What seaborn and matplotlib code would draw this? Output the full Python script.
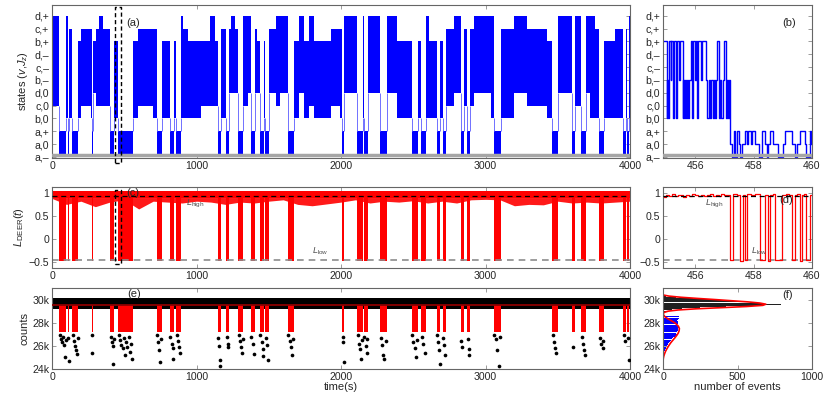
import numpy as np
import matplotlib
matplotlib.use("Agg")
import matplotlib.pyplot as plt
import seaborn as sns
from matplotlib.ticker import FuncFormatter

sns.set_theme(style="ticks")
plt.rcParams['font.family'] = ['Liberation Sans', 'DejaVu Sans']
plt.rcParams['mathtext.fontset'] = 'custom'
plt.rcParams['mathtext.rm'] = 'Liberation Sans'
plt.rcParams['mathtext.it'] = 'Liberation Sans:italic'

# state labels (index 0 = bottom)
state_names = ['a,–', 'a,0', 'a,+', 'b,0', 'c,0', 'd,0', 'b,–', 'c,–', 'd,–', 'b,+', 'c,+', 'd,+']

# full trace, read as blocks: start time, highest and lowest state visited
seg_start = [0, 50, 97, 108, 120, 138, 182, 200, 270, 274, 283, 304, 327, 350, 401, 431, 457, 558, 592, 700,
             724, 760, 815, 845, 857, 892, 910, 938, 1030, 1095, 1125, 1147, 1168, 1203, 1225, 1240, 1265, 1288,
             1325, 1355, 1375, 1403, 1420, 1437, 1467, 1474, 1502, 1548, 1580, 1630, 1675, 1710, 1744, 1779,
             1813, 1929, 1990, 2009, 2020, 2113, 2154, 2158, 2186, 2269, 2315, 2389, 2488, 2534, 2557, 2590,
             2608, 2661, 2688, 2704, 2728, 2781, 2827, 2850, 2873, 2891, 2919, 3040, 3057, 3108, 3196, 3288,
             3426, 3460, 3499, 3598, 3621, 3663, 3696, 3725, 3760, 3787, 3821, 3898, 3955, 3972, 3979, 3995]
seg_top = [11, 2, 11, 2, 10, 2, 9, 10, 10, 2, 9, 10, 11, 10, 2, 9, 2, 9, 10, 10,
           2, 9, 2, 9, 2, 11, 10, 9, 9, 11, 9, 2, 10, 2, 10, 11, 10, 2, 11, 11,
           2, 10, 9, 2, 9, 2, 10, 11, 11, 2, 9, 11, 9, 11, 9, 10, 10, 2, 11, 2,
           11, 2, 11, 2, 11, 9, 2, 9, 2, 11, 9, 2, 9, 2, 10, 11, 2, 10, 2, 10,
           11, 11, 2, 10, 11, 10, 9, 2, 11, 2, 11, 2, 11, 11, 10, 2, 9, 10, 2, 10, 2, 11]
seg_bot = [4, 0, 3, 0, 3, 0, 3, 4, 3, 0, 5, 4, 4, 4, 0, 3, 0, 3, 4, 3,
           0, 3, 0, 3, 0, 3, 3, 3, 4, 4, 4, 0, 3, 0, 5, 5, 5, 0, 4, 5,
           0, 5, 5, 0, 3, 0, 5, 4, 5, 0, 3, 5, 3, 4, 3, 4, 3, 0, 5, 0,
           3, 0, 5, 0, 5, 3, 0, 3, 0, 3, 3, 0, 3, 0, 4, 5, 0, 4, 0, 4,
           5, 3, 0, 3, 5, 4, 3, 0, 5, 0, 4, 0, 5, 3, 3, 0, 3, 3, 0, 3, 0, 3]
t_end = 4000

# zoomed trace 455-460 s
b_t = [454.90, 455.03, 455.05, 455.07, 455.10, 455.16, 455.18, 455.23, 455.26, 455.29, 455.36, 455.38,
       455.45, 455.47, 455.57, 455.60, 455.63, 455.66, 455.70, 455.73, 455.77, 455.80, 455.85, 455.90,
       455.93, 455.99, 456.02, 456.08, 456.11, 456.20, 456.24, 456.36, 456.42, 456.46, 456.52, 456.56,
       456.60, 456.64, 456.69, 456.73, 456.76, 456.81, 456.86, 456.90, 456.94, 456.98, 457.04, 457.08,
       457.12, 457.16, 457.21, 457.27, 457.32, 457.38, 457.42, 457.49, 457.55, 457.60, 457.72, 457.78,
       457.82, 457.90, 457.95, 458.06, 458.17, 458.28, 458.40, 458.46, 458.50, 458.56, 458.68, 458.85,
       459.02, 459.07, 459.30, 459.41, 459.50, 459.58, 459.75, 459.81, 459.92, 459.97, 460.00]
b_s = [9, 3, 6, 3, 9, 6, 9, 3, 6, 9, 3, 9,
       6, 9, 3, 6, 3, 6, 3, 6, 3, 6, 9, 3,
       9, 6, 9, 3, 9, 6, 9, 6, 3, 6, 3, 6,
       3, 6, 3, 6, 9, 3, 6, 3, 6, 9, 3, 6,
       3, 6, 1, 0, 2, 0, 2, 1, 0, 1, 2, 1,
       2, 1, 2, 1, 0, 2, 1, 0, 1, 2, 1, 0,
       1, 2, 1, 0, 1, 2, 1, 0, 2, 1, 1]

# L_DEER: lower edge of the high band (s, value)
c_env_t = [0, 100, 200, 300, 400, 500, 600, 700, 800, 900, 1000, 1100, 1200, 1300, 1400, 1500, 1600, 1700,
           1800, 1900, 2000, 2100, 2200, 2300, 2400, 2500, 2600, 2700, 2800, 2900, 3000, 3100, 3200, 3300,
           3400, 3500, 3600, 3700, 3800, 3900, 4000]
c_env_lo = [0.88, 0.75, 0.82, 0.70, 0.80, 0.85, 0.65, 0.82, 0.80, 0.78, 0.82, 0.80, 0.75, 0.80, 0.78, 0.82,
            0.85, 0.75, 0.72, 0.76, 0.80, 0.85, 0.78, 0.82, 0.80, 0.83, 0.78, 0.82, 0.78, 0.85, 0.86, 0.85,
            0.72, 0.75, 0.74, 0.82, 0.78, 0.80, 0.78, 0.80, 0.82]
L_high = 0.94
L_low = -0.456

# L_DEER zoom 455-460 s
d_t = [454.9, 455.0, 455.1, 455.2, 455.3, 455.4, 455.5, 455.6, 455.7, 455.8, 455.9, 456.0, 456.1, 456.2,
       456.3, 456.4, 456.5, 456.6, 456.7, 456.8, 456.9, 457.0, 457.1, 457.19, 457.30, 457.42, 457.55,
       457.63, 457.70, 457.77, 457.9, 458.05, 458.23, 458.40, 458.49, 458.56, 458.65, 458.73, 458.96,
       459.1, 459.2, 459.30, 459.41, 459.5, 459.58, 459.66, 459.74, 459.81, 459.92, 460.0]
d_L = [0.92, 0.95, 0.93, 0.97, 0.94, 0.96, 0.95, 0.92, 0.96, 0.94, 0.97, 0.95, 0.93, 0.96, 0.94, 0.95,
       0.97, 0.93, 0.96, 0.94, 0.98, 0.95, 0.96, -0.47, 0.97, 0.95, -0.48, 0.96, -0.47, 0.98, 0.95, 0.97,
       -0.47, 0.96, -0.48, 0.95, 0.97, -0.47, 0.96, 0.98, 0.95, -0.47, 0.96, 0.97, -0.48, 0.95, 0.97,
       -0.47, 0.96, 0.96]

# photon counts: high band, threshold, and the low-count points inside dips
count_band = (29200, 30150)
count_thresh = 29550
count_dip_floor = 27200
e_low_t = [55, 62, 70, 78, 85, 90, 95, 112, 116, 145, 152, 160, 168, 175, 178, 277, 280, 405, 412, 420, 425,
           428, 462, 470, 480, 488, 495, 505, 512, 520, 530, 538, 545, 552, 728, 735, 742, 748, 755, 820,
           828, 835, 840, 862, 870, 878, 885, 1150, 1155, 1160, 1163, 1208, 1215, 1220, 1292, 1300, 1308,
           1315, 1320, 1380, 1390, 1398, 1442, 1450, 1458, 1463, 1480, 1490, 1497, 1636, 1645, 1652, 1660,
           1668, 2012, 2015, 2018, 2118, 2125, 2132, 2140, 2148, 2162, 2170, 2178, 2183, 2275, 2283, 2292,
           2300, 2308, 2493, 2500, 2510, 2520, 2528, 2562, 2570, 2580, 2665, 2672, 2680, 2684, 2708, 2715,
           2722, 2832, 2840, 2877, 2883, 2888, 3062, 3070, 3080, 3090, 3100, 3465, 3472, 3480, 3490, 3608,
           3668, 3676, 3685, 3690, 3792, 3800, 3812, 3816, 3960, 3968, 3985, 3990]
e_low_c = [26900, 26600, 26300, 26800, 26100, 25000, 26500, 26700, 24700, 26900, 26400, 26000, 25600, 25300,
           26700, 26900, 25400, 26800, 26300, 26000, 24400, 26600, 26900, 26500, 26100, 25800, 26700, 25200,
           26300, 25900, 26800, 25500, 26200, 24900, 26900, 26300, 25600, 24600, 26600, 26800, 26200, 25800,
           24900, 26900, 26400, 25900, 25400, 26700, 26000, 24800, 24300, 26800, 26200, 25900, 26900, 26400,
           25900, 25400, 26600, 26800, 26200, 25300, 26900, 26300, 25700, 25100, 26700, 26100, 24800, 26900,
           26400, 25900, 25200, 26600, 26800, 26300, 24600, 26900, 26200, 25700, 24900, 26500, 26800, 26000,
           25400, 26600, 26700, 26100, 25200, 24900, 26400, 26900, 26300, 25800, 25000, 26500, 26800, 26200,
           25400, 26900, 26300, 25600, 24400, 26700, 26100, 25200, 26400, 25900, 26600, 25700, 25200, 26900,
           26600, 25600, 24300, 26800, 26900, 26300, 25800, 25400, 25900, 26800, 26200, 25600, 25200, 26700,
           26200, 25800, 26400, 26900, 26400, 26700, 24800]

# histogram of counts (bin centre, number of events)
hist_hi_c = [28800, 28900, 29000, 29100, 29200, 29300, 29400, 29500, 29600, 29700, 29800, 29900, 30000,
             30100, 30200, 30300]
hist_hi_n = [5, 15, 30, 60, 130, 250, 420, 640, 790, 680, 560, 450, 320, 200, 90, 20]
hist_lo_c = [28500, 28400, 28300, 28200, 28100, 28000, 27900, 27800, 27700, 27600, 27500, 27400, 27300,
             27200, 27100, 27000, 26900, 26800, 26700, 26600, 26500, 26400, 26300, 26200, 26100, 26000,
             25900, 25800, 25700, 25600, 25500, 25400, 25300, 25200, 25100, 25000, 24900, 24800, 24700, 24600]
hist_lo_n = [110, 108, 100, 95, 98, 100, 104, 100, 110, 106, 100, 98, 104, 96, 90, 95, 85, 78, 70, 62, 55,
             48, 42, 36, 32, 27, 23, 20, 16, 12, 9, 8, 6, 5, 4, 3, 2, 2, 1, 1]
fit_hi_c = [30400, 30300, 30200, 30100, 30000, 29900, 29800, 29700, 29600, 29500, 29400, 29300, 29200,
            29100, 29000, 28900, 28800]
fit_hi_n = [0, 40, 120, 230, 350, 460, 570, 650, 690, 670, 560, 390, 220, 100, 35, 10, 2]
fit_lo_c = [28700, 28500, 28300, 28100, 27900, 27700, 27500, 27300, 27100, 26900, 26700, 26500, 26300,
            26100, 25900, 25700, 25500, 25300, 25100, 24900, 24600]
fit_lo_n = [3, 14, 38, 66, 88, 103, 110, 108, 102, 92, 80, 67, 54, 43, 33, 24, 16, 10, 5, 2, 0]

fig = plt.figure(figsize=(8.3, 4.07), dpi=100)


def px_axes(l, t, r, b):
    return fig.add_axes([l / 830, 1 - b / 407, (r - l) / 830, (b - t) / 407])


def style(ax):
    ax.tick_params(direction='in', length=3, width=0.6, color='0.55', labelsize=7.6,
                   top=True, right=True, pad=2)
    for s in ax.spines.values():
        s.set_color('0.4')
        s.set_linewidth(0.8)


ax_a = px_axes(52, 5, 630, 158)
ax_b = px_axes(663, 5, 812, 158)
ax_c = px_axes(52, 187, 630, 268)
ax_d = px_axes(663, 187, 812, 268)
ax_e = px_axes(52, 288, 630, 369)
ax_f = px_axes(663, 288, 812, 369)

edges = seg_start + [t_end]
tops = seg_top + [seg_top[-1]]
bots = seg_bot + [seg_bot[-1]]
is_low = [tp <= 2 for tp in seg_top]

# (a) states
ax_a.fill_between(edges, bots, tops, step='post', color='blue', lw=0)
for i in range(1, len(seg_start)):
    if is_low[i] != is_low[i - 1]:
        hb = seg_bot[i] if not is_low[i] else seg_bot[i - 1]
        ax_a.vlines(edges[i], 2, hb, color='#7070ff', lw=0.7)
ax_a.axhline(0.12, color='0.65', lw=2.5, zorder=3)
ax_a.plot([435, 479, 479, 435, 435], [-0.5, -0.5, 11.65, 11.65, -0.5], color='black', ls=(0, (3, 2)),
          lw=1, clip_on=False, zorder=5)
ax_a.set_xlim(0, 4000)
ax_a.set_ylim(-0.08, 11.83)
ax_a.set_yticks(range(12))
ax_a.set_yticklabels(state_names)
ax_a.set_xticks([0, 1000, 2000, 3000, 4000])
ax_a.set_ylabel(r'states ($v$,$J_z$)', fontsize=8, labelpad=3)
ax_a.text(560, 10.45, '(a)', fontsize=8, ha='center', va='center')

# (b) zoomed states
ax_b.step(b_t, b_s, where='post', color='blue', lw=1.0)
ax_b.axhline(0.12, color='0.65', lw=2.5, zorder=3)
ax_b.set_xlim(454.9, 460)
ax_b.set_ylim(-0.08, 11.83)
ax_b.set_yticks(range(12))
ax_b.set_yticklabels(state_names)
ax_b.set_xticks([456, 458, 460])
ax_b.text(459.2, 10.45, '(b)', fontsize=8, ha='center', va='center')

# (c) L_DEER
c_lo = [-0.48 if lw else 0.88 for lw in is_low]
ax_c.fill_between(edges, c_lo + [c_lo[-1]], 1.05, step='post', color='red', lw=0)
ax_c.fill_between(c_env_t, c_env_lo, 0.9, color='red', lw=0, alpha=0.9)
ax_c.axhline(L_high, color='black', ls=(0, (4, 3)), lw=0.9, zorder=4)
ax_c.axhline(L_low, color='0.55', ls=(0, (4, 3)), lw=1.2, zorder=1)
ax_c.plot([435, 479, 479, 435, 435], [-0.56, -0.56, 1.06, 1.06, -0.56], color='black', ls=(0, (3, 2)),
          lw=1, clip_on=False, zorder=5)
ax_c.text(930, 0.72, r'$L_{\rm high}$', fontsize=6.5, color='0.3')
ax_c.text(1800, -0.33, r'$L_{\rm low}$', fontsize=6.5, color='0.3')
ax_c.text(560, 1.0, '(c)', fontsize=8, ha='center', va='center', zorder=6)
ax_c.set_xlim(0, 4000)
ax_c.set_ylim(-0.64, 1.13)
ax_c.set_yticks([-0.5, 0, 0.5, 1])
ax_c.set_yticklabels(['−0.5', '0', '0.5', '1'])
ax_c.set_xticks([0, 1000, 2000, 3000, 4000])
ax_c.set_ylabel(r'$L_{\rm DEER}(t)$', fontsize=8, labelpad=2)

# (d) zoomed L_DEER
ax_d.step(d_t, d_L, where='post', color='red', lw=0.9)
ax_d.axhline(L_high, color='black', ls=(0, (4, 3)), lw=0.9, zorder=4)
ax_d.axhline(L_low, color='0.55', ls=(0, (4, 3)), lw=1.2, zorder=1)
ax_d.text(456.35, 0.72, r'$L_{\rm high}$', fontsize=6.5, color='0.3')
ax_d.text(457.9, -0.33, r'$L_{\rm low}$', fontsize=6.5, color='0.3')
ax_d.text(459.1, 0.85, '(d)', fontsize=8, ha='center', va='center')
ax_d.set_xlim(454.9, 460)
ax_d.set_ylim(-0.64, 1.13)
ax_d.set_yticks([-0.5, 0, 0.5, 1])
ax_d.set_yticklabels(['−0.5', '0', '0.5', '1'])
ax_d.set_xticks([456, 458, 460])

# (e) counts
kfmt = FuncFormatter(lambda v, p: f'{int(v / 1000)}k')
ax_e.fill_between([0, t_end], count_band[0], count_band[1], color='black', lw=0)
for i, lw_ in enumerate(is_low):
    if lw_:
        ax_e.fill_between([edges[i], edges[i + 1]], count_dip_floor, count_thresh, color='red', lw=0, zorder=2)
ax_e.axhline(count_thresh, color='#8b0000', lw=1.3, zorder=3)
sns.scatterplot(x=e_low_t, y=e_low_c, ax=ax_e, color='black', s=7, linewidth=0, zorder=4)
ax_e.text(570, 30500, '(e)', fontsize=8, ha='center', va='center')
ax_e.set_xlim(0, 4000)
ax_e.set_ylim(24000, 31000)
ax_e.set_yticks([24000, 26000, 28000, 30000])
ax_e.yaxis.set_major_formatter(kfmt)
ax_e.set_xticks([0, 1000, 2000, 3000, 4000])
ax_e.set_ylabel('counts', fontsize=8, labelpad=2)
ax_e.set_xlabel('time(s)', fontsize=8, labelpad=0)

# (f) histogram
ax_f.barh(hist_hi_c, hist_hi_n, height=85, color='#202020', lw=0)
ax_f.barh(hist_lo_c, hist_lo_n, height=85, color='blue', lw=0)
sns.lineplot(x=fit_hi_n, y=fit_hi_c, orient='y', ax=ax_f, color='red', lw=1.2)
sns.lineplot(x=fit_lo_n, y=fit_lo_c, orient='y', ax=ax_f, color='red', lw=1.2)
ax_f.text(835, 30430, '(f)', fontsize=8, ha='center', va='center')
ax_f.set_xlim(0, 1000)
ax_f.set_ylim(24000, 31000)
ax_f.set_yticks([24000, 26000, 28000, 30000])
ax_f.yaxis.set_major_formatter(kfmt)
ax_f.set_xticks([0, 500, 1000])
ax_f.set_xlabel('number of events', fontsize=8, labelpad=0)
ax_f.set_ylabel('')

for ax in [ax_a, ax_b, ax_c, ax_d, ax_e, ax_f]:
    style(ax)

fig.savefig('out.png', dpi=100)
